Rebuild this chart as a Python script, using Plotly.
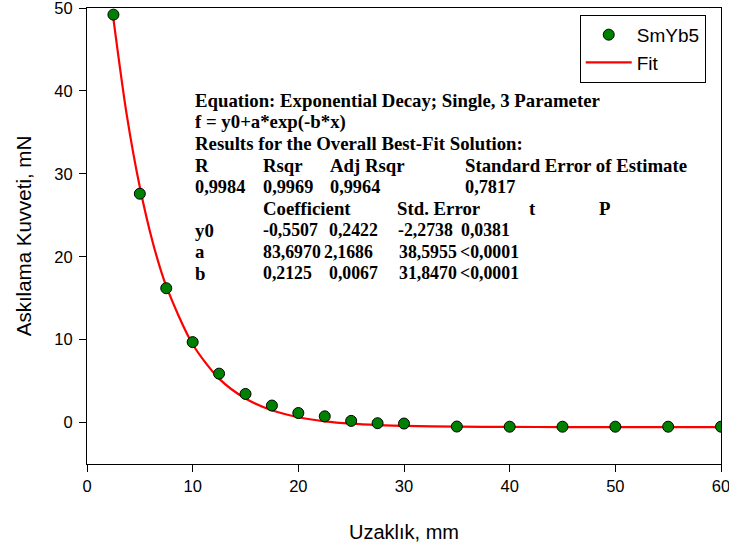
import plotly.graph_objects as go

# ---- data ----
x_obs = [2.5, 5, 7.5, 10, 12.5, 15, 17.5, 20, 22.5, 25, 27.5, 30, 35, 40, 45, 50, 55, 60]
y_obs = [49.2, 27.6, 16.2, 9.7, 5.9, 3.45, 2.05, 1.15, 0.75, 0.2, -0.08, -0.12,
         -0.48, -0.5, -0.5, -0.5, -0.5, -0.5]

x_fit = [2.5, 3.75, 5, 6.25, 7.5, 10, 12.5, 15, 17.5, 20, 22.5, 25, 27.5, 30, 35, 40, 45, 50, 55, 60]
y_fit = [48.7, 37.2, 28.4, 21.6, 16.45, 9.45, 5.3, 2.9, 1.48, 0.64, 0.15, -0.14, -0.31, -0.41,
         -0.5, -0.53, -0.545, -0.55, -0.55, -0.55]

x_ticks = [0, 10, 20, 30, 40, 50, 60]
y_ticks = [0, 10, 20, 30, 40, 50]

header_lines = ["Equation: Exponential Decay; Single, 3 Parameter",
                "f = y0+a*exp(-b*x)",
                "Results for the Overall Best-Fit Solution:"]
stat_names = ["R", "Rsqr", "Adj Rsqr", "Standard Error of Estimate"]
stat_values = ["0,9984", "0,9969", "0,9964", "0,7817"]
coef_header = ["Coefficient", "Std. Error", "t", "P"]
param_names = ["y0", "a", "b"]
param_rows = [["-0,5507", "0,2422", "-2,2738", "0,0381"],
              ["83,6970", "2,1686", "38,5955", "<0,0001"],
              ["0,2125", "0,0067", "31,8470", "<0,0001"]]

# ---- layout geometry (pixels) ----
W, H = 729, 549
L, R, T, B = 86.5, 7.5, 8.2, 85
PW = W - L - R
PH = H - T - B

fig = go.Figure()
fig.add_trace(go.Scatter(x=x_fit, y=y_fit, mode="lines", name="Fit",
                         line=dict(color="#FF0000", width=2.2, shape="spline", smoothing=0.8)))
fig.add_trace(go.Scatter(x=x_obs, y=y_obs, mode="markers", name="SmYb5",
                         marker=dict(color="#008000", size=11, line=dict(color="black", width=1))))

def px2paper(px, py):
    return (px - L) / PW, (H - B - py) / PH

annots = []
def add_text(px, py, txt, fs=18.8):
    xp, yp = px2paper(px, py)
    annots.append(dict(x=xp, y=yp, xref="paper", yref="paper", text=txt, showarrow=False,
                       xanchor="left", yanchor="middle", borderpad=0,
                       font=dict(family="Liberation Serif", size=fs, color="black")))

row_y = [100.6 + 21.6 * i for i in range(9)]
for i, t in enumerate(header_lines):
    add_text(194, row_y[i], "<b>%s</b>" % t)
for xpx, t in zip([194, 262, 329, 464], stat_names):
    add_text(xpx, row_y[3], "<b>%s</b>" % t)
for xpx, t in zip([194, 262, 329, 464], stat_values):
    add_text(xpx, row_y[4], "<b>%s</b>" % t, 18.3)
for xpx, t in zip([262, 396, 528, 598], coef_header):
    add_text(xpx, row_y[5], "<b>%s</b>" % t)
col_x = [[262, 328, 397, 460], [262, 323, 398, 459], [262, 328, 398, 459]]
for k, (nm, vals) in enumerate(zip(param_names, param_rows)):
    add_text(194, row_y[6 + k], "<b>%s</b>" % nm)
    for xpx, v in zip(col_x[k], vals):
        add_text(xpx, row_y[6 + k], "<b>%s</b>" % v, 17.8)

axis_common = dict(showline=True, linecolor="black", linewidth=1, mirror=True,
                   ticks="outside", ticklen=7, tickcolor="black", tickwidth=1,
                   showgrid=False, zeroline=False, ticklabeloverflow="allow",
                   tickfont=dict(family="Liberation Sans", size=16.5, color="black"))

fig.update_layout(
    width=W, height=H,
    margin=dict(l=L, r=R, t=T, b=B, pad=0),
    paper_bgcolor="white", plot_bgcolor="white",
    xaxis=dict(range=[0, 60], tickvals=x_ticks, **axis_common,
               title=dict(text="Uzaklık, mm", font=dict(family="Liberation Sans", size=20, color="black"),
                          standoff=31)),
    yaxis=dict(range=[-5, 50], tickvals=y_ticks, **axis_common, ticklabelstandoff=3,
               title=dict(text="Askılama Kuvveti, mN", font=dict(family="Liberation Sans", size=20.5, color="black"),
                          standoff=17)),
    legend=dict(x=(580 - L) / PW, y=(H - B - 15) / PH, xanchor="left", yanchor="top",
                bgcolor="white", bordercolor="black", borderwidth=1,
                font=dict(family="Liberation Sans", size=19, color="black"),
                traceorder="reversed", itemwidth=46),
    annotations=annots,
    showlegend=True,
)
fig.update_xaxes(automargin=False)
fig.update_yaxes(automargin=False)

fig.write_html("out.html")
